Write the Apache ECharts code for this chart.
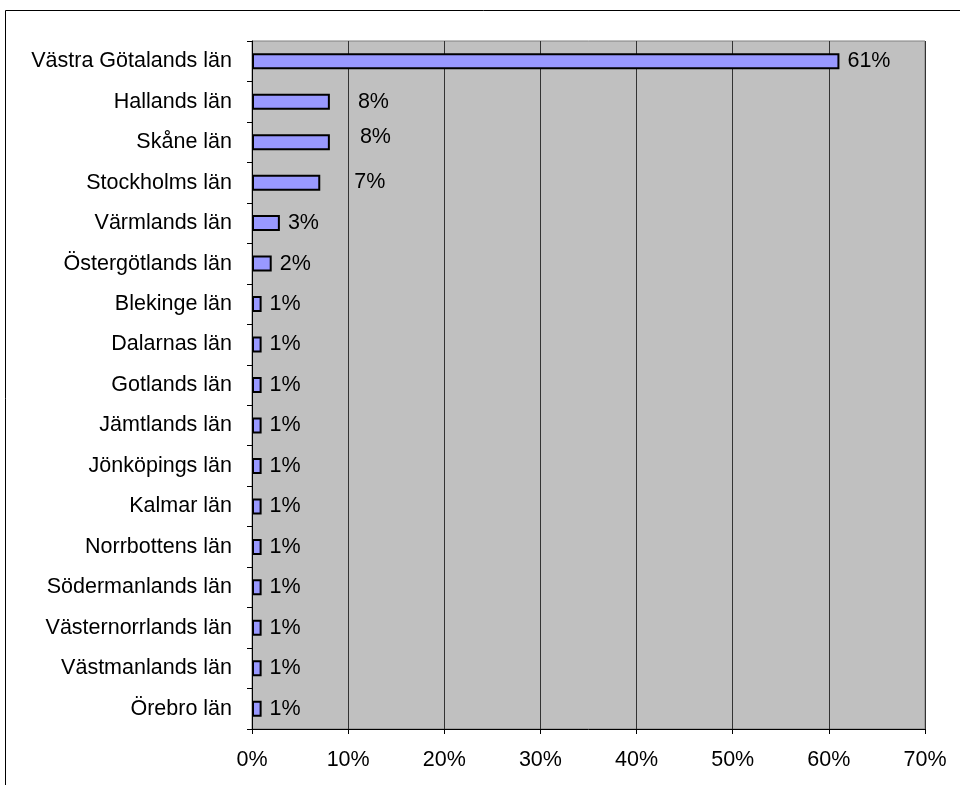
<!DOCTYPE html>
<html>
<head>
<meta charset="utf-8">
<script src="https://cdn.jsdelivr.net/npm/echarts@6/dist/echarts.min.js"></script>
<style>
  html, body { margin: 0; padding: 0; background: #fff; }
  #chart { width: 960px; height: 785px; }
</style>
</head>
<body>
<div id="chart"></div>
<script>
const counties = [
  'Västra Götalands län', 'Hallands län', 'Skåne län', 'Stockholms län',
  'Värmlands län', 'Östergötlands län', 'Blekinge län', 'Dalarnas län',
  'Gotlands län', 'Jämtlands län', 'Jönköpings län', 'Kalmar län',
  'Norrbottens län', 'Södermanlands län', 'Västernorrlands län',
  'Västmanlands län', 'Örebro län'
]
const shares = [61.1, 8.1, 8.1, 7.1, 2.9, 2.05, 1, 1, 1, 1, 1, 1, 1, 1, 1, 1, 1]
const xTicks = [0, 10, 20, 30, 40, 50, 60, 70]

// a few labels sit a bit away from their bars in the original
const labelShift = { 1: [20, 0], 2: [22, -5], 3: [26, -1] }

const chart = echarts.init(document.getElementById('chart'))
const font = 'Liberation Sans, Arial, sans-serif'

chart.setOption({
  animation: false,
  textStyle: { fontFamily: font },
  graphic: [{
    type: 'rect',
    shape: { x: 5.5, y: 10.5, width: 1000, height: 1000 },
    style: { fill: 'none', stroke: '#000', lineWidth: 1 },
    silent: true
  }],
  grid: {
    left: 252, top: 41, width: 673, height: 688,
    show: true, backgroundColor: '#c0c0c0', borderColor: '#808080', borderWidth: 1
  },
  xAxis: {
    type: 'value',
    min: xTicks[0],
    max: xTicks[xTicks.length - 1],
    interval: 10,
    axisLine: { show: true, lineStyle: { color: '#000', width: 1 } },
    axisTick: { show: true, length: 5, lineStyle: { color: '#000' } },
    axisLabel: { formatter: '{value}%', color: '#000', fontSize: 21.5, margin: 20, fontFamily: font },
    splitLine: { show: true, lineStyle: { color: '#333', width: 1 } }
  },
  yAxis: {
    type: 'category',
    data: counties,
    inverse: true,
    axisLine: { show: true, lineStyle: { color: '#000', width: 1 } },
    axisTick: { show: true, length: 5, alignWithLabel: false, lineStyle: { color: '#000' } },
    axisLabel: { color: '#000', fontSize: 21.5, margin: 20, fontFamily: font },
    splitLine: { show: false }
  },
  series: [{
    type: 'bar',
    barWidth: 16,
    itemStyle: { color: '#9999ff', borderColor: '#000', borderWidth: 2 },
    label: {
      show: true,
      position: 'right',
      distance: 8,
      color: '#000',
      fontSize: 21.5,
      fontFamily: font,
      formatter: p => Math.round(p.value) + '%'
    },
    data: shares.map((v, i) => labelShift[i]
      ? { value: v, label: { offset: labelShift[i] } }
      : v)
  }]
})
</script>
</body>
</html>
